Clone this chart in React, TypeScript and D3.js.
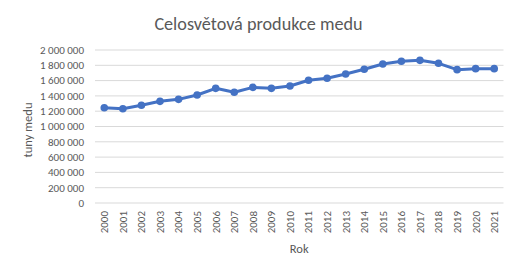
import React from "react";
import * as d3 from "d3";

const years = ["2000","2001","2002","2003","2004","2005","2006","2007","2008","2009","2010","2011","2012","2013","2014","2015","2016","2017","2018","2019","2020","2021"];
const production = [1246000,1233000,1277000,1329000,1355000,1412000,1499000,1447000,1512000,1499000,1529000,1604000,1630000,1686000,1748000,1817000,1852000,1865000,1826000,1743000,1756000,1756000];
const yTicks = [0,200000,400000,600000,800000,1000000,1200000,1400000,1600000,1800000,2000000];

const W = 517, H = 273;
const left = 95, right = 503.5, top = 50, bottom = 203;
const font = "Carlito, Calibri, 'Liberation Sans Narrow', 'Open Sans', sans-serif";
const textCol = "#595959";

const fmt = (v: number) => d3.format(",")(v).replace(/,/g, "\u00a0");

export default function App() {
  const x = d3.scaleBand<string>().domain(years).range([left, right]);
  const y = d3.scaleLinear().domain([0, 2000000]).range([bottom, top]);
  const cx = (d: string) => (x(d) as number) + x.bandwidth() / 2;
  const line = d3.line<number>().x((_, i) => cx(years[i])).y((v) => y(v));
  return (
    <svg width={W} height={H} style={{ position: "absolute", left: 0, top: 0, background: "#fff" }}>
      <rect width={W} height={H} fill="#fff" />
      <text x={258.5} y={30} textAnchor="middle" fontFamily={font} fontSize={18.2} fill={textCol}>Celosvětová produkce medu</text>
      {yTicks.map((t) => (
        <g key={t}>
          <line x1={left} x2={right} y1={y(t)} y2={y(t)} stroke="#d9d9d9" strokeWidth={1} />
          <text x={84} y={y(t)} dy="0.35em" textAnchor="end" fontFamily={font} fontSize={11} fill={textCol}>{fmt(t)}</text>
        </g>
      ))}
      {years.map((yr) => (
        <text key={yr} transform={`translate(${cx(yr)},${211}) rotate(-90)`} textAnchor="end" dy="0.35em" fontFamily={font} fontSize={11} fill={textCol}>{yr}</text>
      ))}
      <text transform={`translate(28,130) rotate(-90)`} textAnchor="middle" dy="0.35em" fontFamily={font} fontSize={12.5} fill={textCol}>tuny medu</text>
      <text x={(left + right) / 2} y={253} textAnchor="middle" fontFamily={font} fontSize={12.5} fill={textCol}>Rok</text>
      <path d={line(production) || ""} fill="none" stroke="#4472C4" strokeWidth={3} strokeLinejoin="round" />
      {production.map((v, i) => (
        <circle key={i} cx={cx(years[i])} cy={y(v)} r={3.8} fill="#4472C4" />
      ))}
    </svg>
  );
}
